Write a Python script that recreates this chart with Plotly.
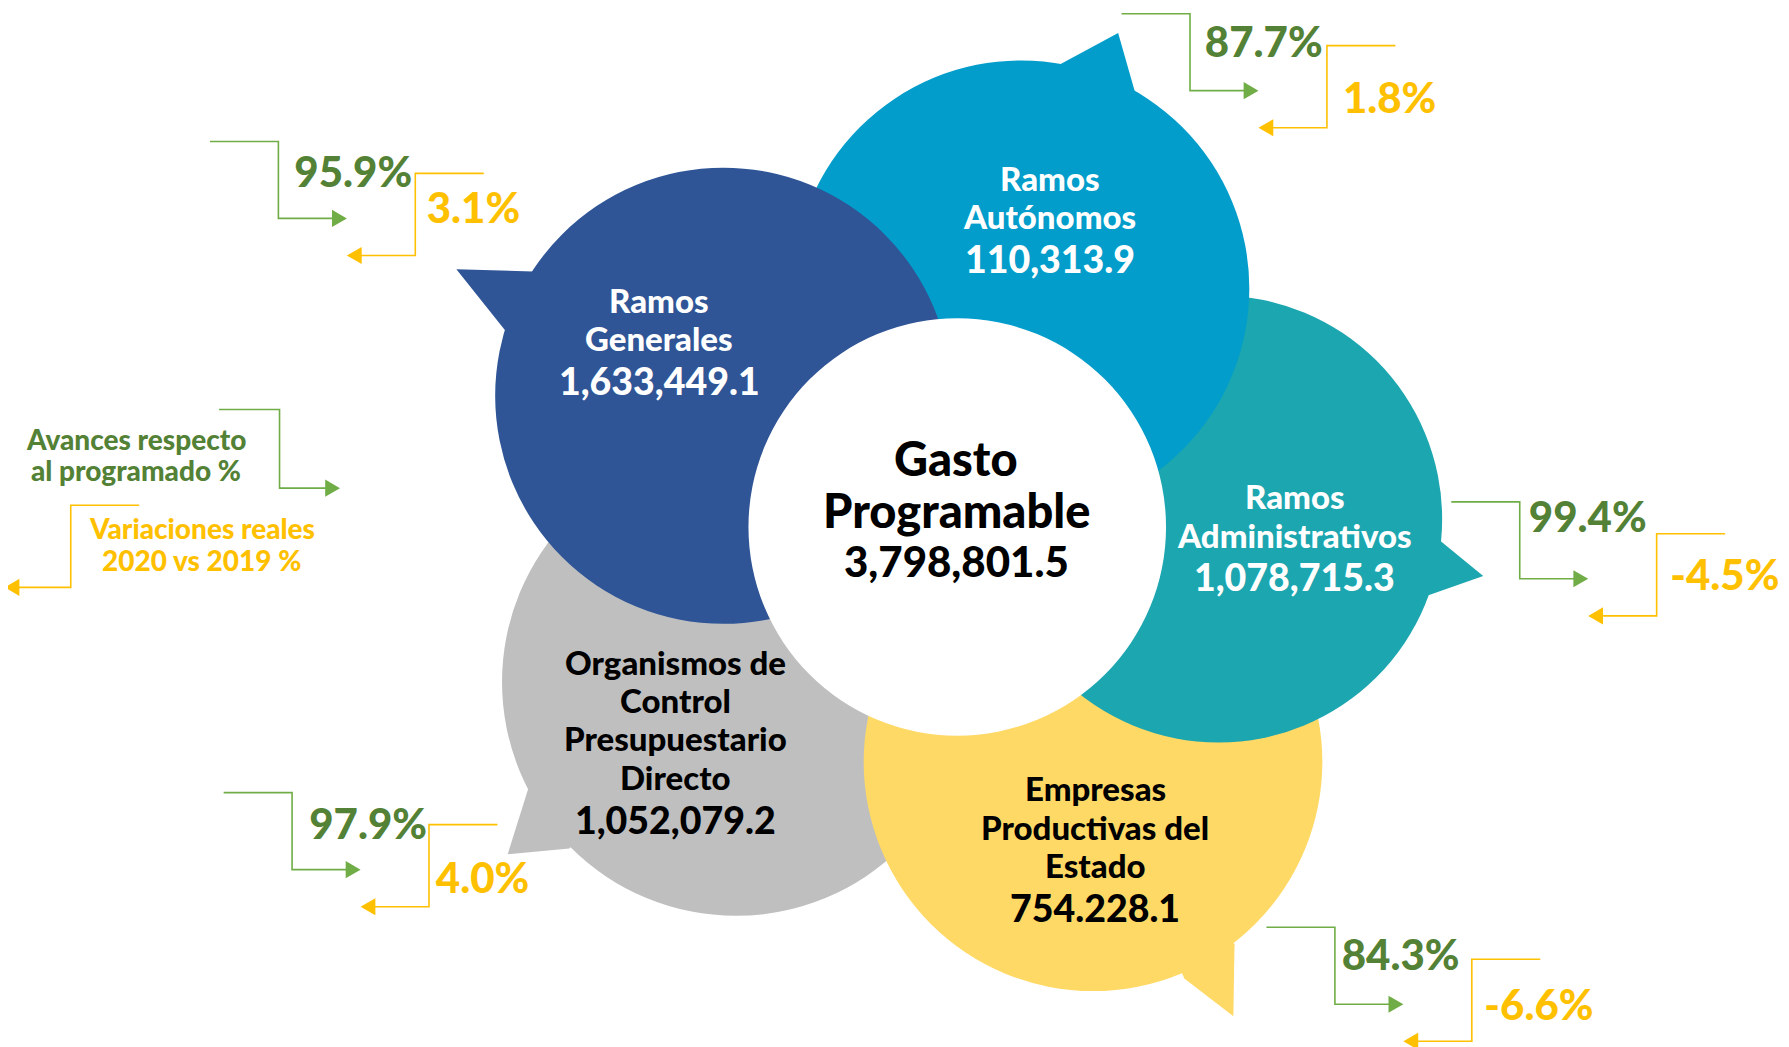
import plotly.graph_objects as go

# Gasto programable por tipo de ramo (millones de pesos)
lineas = [["Ramos", "Generales"],
          ["Ramos", "Autónomos"],
          ["Ramos", "Administrativos"],
          ["Empresas", "Productivas del", "Estado"],
          ["Organismos de", "Control", "Presupuestario", "Directo"]]
montos = ["1,633,449.1", "110,313.9", "1,078,715.3", "754.228.1", "1,052,079.2"]
avance = [95.9, 87.7, 99.4, 84.3, 97.9]      # avance respecto al programado %
variacion = [3.1, 1.8, -4.5, -6.6, 4.0]      # variaciones reales 2020 vs 2019 %
total_lineas = ["Gasto", "Programable"]
total = "3,798,801.5"

# lienzo de 1568 x 918 unidades, y hacia abajo
# (la pagina deja 8 px de margen arriba y a la izquierda)
W, H = 1568, 918
ESC = 1789 / W
OFF = 8 / ESC
FONT = "Lato"
PESO = 900
VERDE, VERDE_LINEA, AMARILLO = "#538135", "#70AD47", "#FFC000"

# geometria de las burbujas (centro, radio, cola, colores, posicion del texto)
burbujas = [
    dict(cx=634, cy=347, r=200, cola=[(467, 238), (400, 236), (443, 290)],
         fill="#2F5597", txt="white", tx=578, ty=263),
    dict(cx=895, cy=253, r=200, cola=[(926, 58), (980, 29), (996, 85)],
         fill="#029DCB", txt="white", tx=920, ty=156),
    dict(cx=1068, cy=455, r=196, cola=[(1262, 474), (1300, 505), (1252, 522)],
         fill="#1CA6B0", txt="white", tx=1135, ty=435),
    dict(cx=958, cy=668, r=201, cola=[(1038, 858), (1081, 891), (1082, 828)],
         fill="#FFD966", txt="black", tx=960, ty=691),
    dict(cx=645, cy=598, r=205, cola=[(465, 685), (445, 749), (499, 744)],
         fill="#BFBFBF", txt="black", tx=592, ty=580),
]
orden = [4, 3, 2, 1, 0]
centro = dict(cx=839, cy=462, r=183, tx=838, ty=402)

# conectores: esquina superior izquierda de cada grupo y desplazamientos del texto
anclas = [(184, 124), (983, 12), (1272, 440), (1110, 813), (196, 695)]
dy_txt = [(31, 62), (29, 78), (17, 68), (28, 72), (31, 79)]
dx_txt = [(74, 190), (73, 194), (68, 192), (66, 191), (75, 186)]

shapes = []
annotations = []

for i in orden:
    b = burbujas[i]
    shapes.append(dict(type="circle", xref="x", yref="y",
                       x0=b["cx"] - b["r"], x1=b["cx"] + b["r"],
                       y0=b["cy"] - b["r"], y1=b["cy"] + b["r"],
                       fillcolor=b["fill"], line=dict(width=0), layer="above"))
    (x1, y1), (x2, y2), (x3, y3) = b["cola"]
    path = f"M {x1},{y1} L {x2},{y2} L {x3},{y3} L {b['cx']},{b['cy']} Z"
    shapes.append(dict(type="path", xref="x", yref="y", path=path,
                       fillcolor=b["fill"], line=dict(width=0), layer="above"))

shapes.append(dict(type="circle", xref="x", yref="y",
                   x0=centro["cx"] - centro["r"], x1=centro["cx"] + centro["r"],
                   y0=centro["cy"] - centro["r"], y1=centro["cy"] + centro["r"],
                   fillcolor="white", line=dict(width=0), layer="above"))


def texto(x, y, s, size, color):
    annotations.append(dict(x=x, y=y, xref="x", yref="y", text=s,
                            showarrow=False, xanchor="center", yanchor="middle",
                            font=dict(family=FONT, size=size, color=color, weight=PESO)))


for i, b in enumerate(burbujas):
    y = b["ty"]
    for ln in lineas[i]:
        texto(b["tx"], y, ln, 33, b["txt"])
        y += 33.7
    texto(b["tx"], y + 3.3, montos[i], 37.5, b["txt"])

texto(centro["tx"], centro["ty"], total_lineas[0], 47, "black")
texto(centro["tx"], centro["ty"] + 45, total_lineas[1], 47, "black")
texto(centro["tx"], centro["ty"] + 90, total, 42, "black")


def linea(pts, color):
    d = "M " + " L ".join(f"{x},{y}" for x, y in pts)
    shapes.append(dict(type="path", xref="x", yref="y", path=d,
                       line=dict(color=color, width=1.6), layer="above"))


def flecha(x, y, sentido, color):
    L, h = 13, 7.5
    xb = x - sentido * L
    shapes.append(dict(type="path", xref="x", yref="y",
                       path=f"M {x},{y} L {xb},{y - h} L {xb},{y + h} Z",
                       fillcolor=color, line=dict(width=0), layer="above"))


gx_txt, gy_txt, gs = [], [], []
ax_txt, ay_txt, as_ = [], [], []
for i, (gx, gy) in enumerate(anclas):
    linea([(gx, gy), (gx + 60, gy), (gx + 60, gy + 67.5), (gx + 108, gy + 67.5)], VERDE_LINEA)
    flecha(gx + 120, gy + 67.5, 1, VERDE_LINEA)
    linea([(gx + 240, gy + 28), (gx + 180, gy + 28), (gx + 180, gy + 100), (gx + 132, gy + 100)], AMARILLO)
    flecha(gx + 120, gy + 100, -1, AMARILLO)
    gx_txt.append(gx + dx_txt[i][0])
    gy_txt.append(gy + dy_txt[i][0])
    gs.append(f"{avance[i]:.1f}%")
    ax_txt.append(gx + dx_txt[i][1])
    ay_txt.append(gy + dy_txt[i][1])
    as_.append(f"{variacion[i]:.1f}%")

# leyenda
linea([(192, 359), (245, 359), (245, 428), (286, 428)], VERDE_LINEA)
flecha(298, 428, 1, VERDE_LINEA)
linea([(122, 443), (62, 443), (62, 515), (16, 515)], AMARILLO)
flecha(4, 515, -1, AMARILLO)
texto(119, 385, "Avances respecto", 28, VERDE)
texto(119, 412, "al programado %", 28, VERDE)
texto(177, 463, "Variaciones reales", 28, AMARILLO)
texto(177, 491, "2020 vs 2019 %", 28, AMARILLO)

fig = go.Figure()
fig.add_trace(go.Scatter(x=gx_txt, y=gy_txt, text=gs, mode="text",
                         textposition="middle right", hoverinfo="skip",
                         textfont=dict(family=FONT, size=42, color=VERDE, weight=PESO)))
fig.add_trace(go.Scatter(x=ax_txt, y=ay_txt, text=as_, mode="text",
                         textposition="middle right", hoverinfo="skip",
                         textfont=dict(family=FONT, size=42, color=AMARILLO, weight=PESO)))

fig.update_layout(
    width=1789 - 8, height=1047 - 8,
    margin=dict(l=0, r=0, t=0, b=0),
    paper_bgcolor="white", plot_bgcolor="white",
    showlegend=False,
    xaxis=dict(range=[OFF, W], visible=False, fixedrange=True),
    yaxis=dict(range=[H, OFF], visible=False, fixedrange=True),
    shapes=shapes,
    annotations=annotations,
)
fig.write_html("out.html", config={"displayModeBar": False})
